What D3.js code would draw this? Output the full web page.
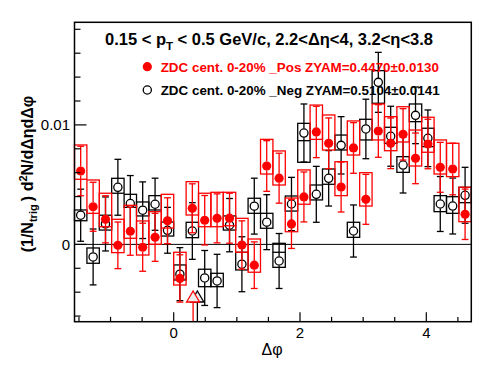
<!DOCTYPE html>
<html>
<head>
<meta charset="utf-8">
<script src="https://cdn.jsdelivr.net/npm/d3@7"></script>
<style>
  body { margin: 0; background: #fff; }
  text { font-family: "Liberation Sans", Arial, Helvetica, sans-serif; }
</style>
</head>
<body>
<div id="chart"></div>
<script>
// bin centres in delta phi (32 bins from -pi/2 to 3pi/2)
var dphi = [-1.473, -1.276, -1.080, -0.884, -0.687, -0.491, -0.295, -0.098,
            0.098, 0.295, 0.491, 0.687, 0.884, 1.080, 1.276, 1.473,
            1.669, 1.865, 2.062, 2.258, 2.454, 2.651, 2.847, 3.043,
            3.240, 3.436, 3.632, 3.829, 4.025, 4.221, 4.418, 4.614];
var binHalf = 0.0982;

// ZDC cent. 0-20% _Pos (red), values in 1e-4
var posVal  = [61.4, 31.5, 21.0, -0.8, 11.0, -2.4, 5.9, 19.8, -28.5, 30.2, 20.2, 21.8, 21.9, -0.5, -17.4, 65.6,
               55.4, 17.1, 39.7, 94.1, 84.6, 48.0, 80.7, 37.7, 94.9, 84.6, 92.1, 72.0, 84.0, 64.5, 63.1, 25.2];
var posErr  = [20.7, 20.5, 19.7, 19.5, 20.1, 20.1, 20.1, 19.2, 19.8, 20.5, 20.7, 20.5, 20.9, 20.2, 19.5, 21.2,
               20.9, 20.5, 20.9, 21.5, 21.2, 20.9, 21.2, 20.9, 22.0, 21.2, 21.5, 21.2, 20.7, 20.9, 21.6, 21.1];
var posBoxHi = [83.2, 53.9, 42.8, 21.0, 32.7, 19.6, 27.4, 41.9, -6.6, 52.5, 42.8, 43.6, 43.6, 21.8, 4.5, 87.9,
                78.2, 38.8, 62.3, 116.6, 108.3, 69.2, 103.3, 60.0, 117.5, 106.9, 115.2, 95.7, 106.4, 87.4, 84.6, 47.8];
var posBoxLo = [54.5, 26.0, 14.8, -6.9, 5.1, -8.9, 0.1, 13.7, -34.0, 24.6, 14.8, 14.8, 15.6, -6.6, -23.3, 58.9,
                49.7, 10.6, 33.6, 87.9, 79.0, 40.8, 74.8, 32.1, 87.4, 78.4, 85.7, 65.6, 77.1, 58.9, 56.7, 19.0];

// ZDC cent. 0-20% _Neg (black), values in 1e-4
var negVal  = [24.4, -10.5, 17.1, 47.8, 34.2, 28.6, 33.6, 11.8, -24.9, 11.2, -28.1, -30.6, 16.1, -16.6, 32.0, 18.6,
               -13.9, 33.8, 93.2, 41.9, 55.3, 82.9, 11.2, 96.6, 135.6, 90.5, 66.4, 108.0, 88.8, 33.8, 32.1, 41.1];
var negErr  = [21.8, 23.4, 22.6, 23.4, 23.4, 23.7, 21.8, 19.2, 22.2, 23.7, 23.0, 22.3, 22.3, 23.0, 23.4, 23.0,
               23.0, 22.3, 24.3, 23.4, 23.2, 24.0, 21.8, 24.9, 25.1, 25.1, 23.4, 23.7, 23.7, 23.0, 23.4, 23.4];
var negBoxHi = [28.8, -3.0, 24.4, 55.3, 41.9, 35.5, 40.8, 18.7, -17.2, 18.5, -20.8, -24.2, 23.8, -6.6, 38.6, 26.0,
                0.9, 40.5, 101.3, 49.7, 63.1, 91.5, 18.5, 104.7, 145.4, 98.0, 73.4, 117.5, 97.2, 40.8, 39.9, 47.8];
var negBoxLo = [19.8, -15.8, 12.0, 42.8, 31.0, 23.8, 28.8, 7.0, -29.8, 5.6, -35.4, -35.4, 12.0, -21.4, 26.0, 13.5,
                -19.2, 27.9, 68.7, 37.2, 50.3, 79.0, 5.9, 87.4, 118.1, 84.6, 60.3, 102.7, 81.8, 27.4, 26.0, 34.9];
var negBoxMid = [null, null, null, null, null, null, null, null, null, null, null, null, null, null, null, null,
                 -6.6, null, 86.8, null, null, null, null, null, null, null, null, null, null, null, null, null];

// ZYAM minimum markers (arrows)
var zyamX = {pos: 0.307, neg: 0.375};
var zyamTip = -39; // 1e-4

var legendText = ["ZDC cent. 0-20% _Pos ZYAM=0.4470\u00b10.0130",
                  "ZDC cent. 0-20% _Neg ZYAM=0.5104\u00b10.0141"];
var xTicks = [0, 2, 4];
var yTicks = [0, 0.01];

var W = 496, H = 374;
var fx0 = 74.5, fx1 = 471.3, fy0 = 22.3, fy1 = 321.7;

var svg = d3.select("#chart").append("svg")
    .attr("width", W).attr("height", H);
svg.append("rect").attr("width", W).attr("height", H).attr("fill", "#fff");

var x = d3.scaleLinear().domain([-Math.PI / 2, 3 * Math.PI / 2]).range([fx0, fx1]);
var y = d3.scaleLinear().domain([-0.00647, 0.018586]).range([fy1, fy0]);
function yv(v) { return y(v * 1e-4); }

var plot = svg.append("g");

// zero line
plot.append("line")
    .attr("x1", fx0).attr("x2", fx1)
    .attr("y1", y(0)).attr("y2", y(0))
    .attr("stroke", "#000").attr("stroke-width", 1);

// draw one data set: boxes, error bars, markers
function drawSeries(vals, errs, hi, lo, mid, color, filled) {
    var g = plot.append("g");
    var r = 4.4;
    for (var i = 0; i < vals.length; i++) {
        var xl = x(dphi[i] - binHalf), xr = x(dphi[i] + binHalf);
        g.append("rect")
            .attr("x", xl).attr("y", yv(hi[i]))
            .attr("width", xr - xl).attr("height", yv(lo[i]) - yv(hi[i]))
            .attr("fill", "none").attr("stroke", color).attr("stroke-width", 1.3);
        if (mid && mid[i] != null) {
            g.append("line")
                .attr("x1", xl).attr("x2", xr)
                .attr("y1", yv(mid[i])).attr("y2", yv(mid[i]))
                .attr("stroke", color).attr("stroke-width", 1.3);
        }
    }
    for (var i = 0; i < vals.length; i++) {
        var cx = x(dphi[i]), cy = yv(vals[i]);
        var yt = yv(vals[i] + errs[i]), yb = yv(vals[i] - errs[i]);
        // ROOT leaves a gap around the marker
        if (cy - r > yt) {
            g.append("line").attr("x1", cx).attr("x2", cx).attr("y1", yt).attr("y2", cy - r)
                .attr("stroke", color).attr("stroke-width", 1.3);
            g.append("line").attr("x1", cx).attr("x2", cx).attr("y1", cy + r).attr("y2", yb)
                .attr("stroke", color).attr("stroke-width", 1.3);
        }
        [yt, yb].forEach(function(yy) {
            g.append("line").attr("x1", cx - 3.4).attr("x2", cx + 3.4).attr("y1", yy).attr("y2", yy)
                .attr("stroke", color).attr("stroke-width", 1.3);
        });
    }
    g.selectAll("circle.m")
        .data(vals)
        .enter().append("circle")
            .attr("class", "m")
            .attr("cx", function(d, i) { return x(dphi[i]); })
            .attr("cy", function(d) { return yv(d); })
            .attr("r", filled ? 4.6 : 4.1)
            .attr("fill", filled ? color : "none")
            .attr("stroke", color)
            .attr("stroke-width", filled ? 0 : 1.3);
}

drawSeries(negVal, negErr, negBoxHi, negBoxLo, negBoxMid, "#000", false);
drawSeries(posVal, posErr, posBoxHi, posBoxLo, null, "#ff0000", true);

// ZYAM arrows
function drawArrow(xpos, color) {
    var ax = x(xpos), at = yv(zyamTip);
    plot.append("line")
        .attr("x1", ax).attr("x2", ax).attr("y1", at + 11).attr("y2", fy1)
        .attr("stroke", color).attr("stroke-width", 1.3);
    plot.append("path")
        .attr("d", "M" + ax + "," + at + " L" + (ax + 6.5) + "," + (at + 11) + " L" + (ax - 6.5) + "," + (at + 11) + " Z")
        .attr("fill", "#eeeeee").attr("stroke", color).attr("stroke-width", 1.3);
}
drawArrow(zyamX.neg, "#000");
drawArrow(zyamX.pos, "#ff0000");

// frame
svg.append("rect")
    .attr("x", fx0).attr("y", fy0)
    .attr("width", fx1 - fx0).attr("height", fy1 - fy0)
    .attr("fill", "none").attr("stroke", "#000").attr("stroke-width", 1.5);

// x axis ticks
var xMinor = d3.range(-3, 10).map(function(k) { return k * 0.5; });
xMinor.forEach(function(t) {
    var major = xTicks.indexOf(t) >= 0;
    svg.append("line")
        .attr("x1", x(t)).attr("x2", x(t))
        .attr("y1", fy1).attr("y2", fy1 - (major ? 9.5 : 4.8))
        .attr("stroke", "#000").attr("stroke-width", 1.2);
});
svg.selectAll("text.xt")
    .data(xTicks)
    .enter().append("text")
        .attr("class", "xt")
        .attr("x", function(d) { return x(d); })
        .attr("y", 338)
        .attr("text-anchor", "middle")
        .style("font-size", "15px")
        .text(function(d) { return d; });

// y axis ticks
var yMinor = d3.range(-3, 10).map(function(k) { return k * 0.002; });
yMinor.forEach(function(t) {
    var major = Math.abs(t) < 1e-9 || Math.abs(t - 0.01) < 1e-9;
    svg.append("line")
        .attr("x1", fx0).attr("x2", fx0 + (major ? 12 : 6))
        .attr("y1", y(t)).attr("y2", y(t))
        .attr("stroke", "#000").attr("stroke-width", 1.2);
});
svg.selectAll("text.yt")
    .data(yTicks)
    .enter().append("text")
        .attr("class", "yt")
        .attr("x", 70)
        .attr("y", function(d) { return y(d) + 5.5; })
        .attr("text-anchor", "end")
        .style("font-size", "15px")
        .text(function(d) { return d === 0 ? "0" : "0.01"; });

// axis titles
svg.append("text")
    .attr("x", 272).attr("y", 355)
    .attr("text-anchor", "middle")
    .style("font-size", "16px")
    .text("\u0394\u03c6");

var ylab = svg.append("text")
    .attr("transform", "translate(33,174) rotate(-90)")
    .attr("text-anchor", "middle")
    .style("font-size", "16px")
    .style("font-weight", "bold");
ylab.append("tspan").text("(1/N");
ylab.append("tspan").attr("dy", 4).style("font-size", "11px").text("trig");
ylab.append("tspan").attr("dy", -4).text("\u2009) d");
ylab.append("tspan").attr("dy", -6).style("font-size", "11px").text("2");
ylab.append("tspan").attr("dy", 6).text("N/d\u0394\u03b7d\u0394\u03c6");

// title
var title = svg.append("text")
    .attr("x", 105).attr("y", 44.5)
    .style("font-size", "16.5px")
    .style("font-weight", "bold");
title.append("tspan").text("0.15 < p");
title.append("tspan").attr("dy", 5).style("font-size", "11.5px").text("T");
title.append("tspan").attr("dy", -5).text(" < 0.5 GeV/c, 2.2<\u0394\u03b7<4, 3.2<\u03b7<3.8");

// legend
var legColors = ["#ff0000", "#000"];
legendText.forEach(function(t, i) {
    var ly = 66.7 + i * 23.3;
    svg.append("circle")
        .attr("cx", 147.3).attr("cy", ly)
        .attr("r", i === 0 ? 4.6 : 4.1)
        .attr("fill", i === 0 ? legColors[i] : "none")
        .attr("stroke", legColors[i])
        .attr("stroke-width", i === 0 ? 0 : 1.3);
    svg.append("text")
        .attr("x", 160.7).attr("y", ly + 5.2)
        .style("font-size", "13.4px")
        .style("font-weight", "bold")
        .attr("fill", legColors[i])
        .text(t);
});
</script>
</body>
</html>
